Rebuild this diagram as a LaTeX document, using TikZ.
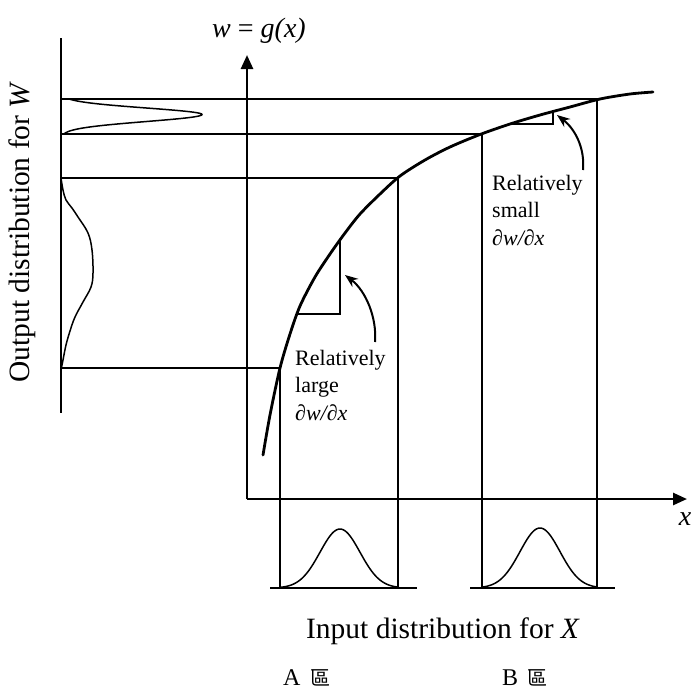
\documentclass[tikz,border=0pt]{standalone}
\usepackage{fontspec}
\setmainfont{Liberation Serif}
\newfontfamily\cjk{Noto Sans CJK TC}
\usetikzlibrary{arrows.meta}
\begin{document}
\begin{tikzpicture}[x=1pt,y=-1pt,
  thinline/.style={line width=1.5pt},
  axisline/.style={line width=2.6pt},
  curveline/.style={line width=2.8pt, line cap=round},
  axisarrow/.style={-{Triangle[length=14pt,width=12pt]}},
  callout/.style={line width=2pt, -{Stealth[length=13pt,width=10pt]}},
  biglabel/.style={font=\fontsize{29.5}{34}\selectfont, inner sep=0pt},
  note/.style={font=\fontsize{22}{27.5}\selectfont, align=left, inner sep=0pt, anchor=north west},
  zone/.style={font=\fontsize{24}{28}\selectfont, inner sep=0pt, anchor=base west},
]
\useasboundingbox (0,0) rectangle (692,689);

% axes
\coordinate (O) at (247,499);
\coordinate (ytip) at (247,55);
\coordinate (xtip) at (687,499);
\coordinate (wtop) at (61,38);
\coordinate (wbot) at (61,413);
\coordinate (base) at (0,588);

% points on w = g(x)
\coordinate (c0) at (263,455);
\coordinate (c1) at (280,368);
\coordinate (c2) at (297,314);
\coordinate (c3) at (340,240);
\coordinate (c4) at (398,178);
\coordinate (c5) at (482,134);
\coordinate (t1) at (510,124);
\coordinate (c6) at (553,111);
\coordinate (c7) at (597,99);
\coordinate (c8) at (653,92);

% output axis
\draw[axisline] (wtop) -- (wbot);

% projection lines
\draw[thinline] (c7 -| wtop) -- (c7);
\draw[thinline] (c5 -| wtop) -- (c5);
\draw[thinline] (c4 -| wtop) -- (c4);
\draw[thinline] (c1 -| wtop) -- (c1);
\draw[thinline] (c1) -- (c1 |- base);
\draw[thinline] (c4) -- (c4 |- base);
\draw[thinline] (c5) -- (c5 |- base);
\draw[thinline] (c7) -- (c7 |- base);

% slope triangles
\draw[thinline] (c2) -- (c2 -| c3) -- (c3);
\draw[thinline] (t1) -- (t1 -| c6) -- (c6);

% axes with arrows
\draw[axisline, axisarrow] (O) -- (ytip);
\draw[axisline, axisarrow] (O) -- (xtip);

% curve w = g(x)
\draw[curveline] plot[smooth, tension=0.5] coordinates {(c0) (270,415) (c1) (290,334) (300,306) (315,277) (330,254) (345,233) (360,214) (380,194) (400,176) (425,160) (450,147) (480,134.5) (t1) (540,115) (570,107) (600,99) (630,94) (c8)};

% output distributions
\draw[thinline] (61,99) -- plot[domain=99:114.5,samples=50] ({61+141*exp(-(\x-114.5)*(\x-114.5)/84.5)},\x)
  -- plot[domain=114.5:134,samples=50] ({61+141*exp(-(\x-114.5)*(\x-114.5)/98)},\x) -- (61,134);
\draw[thinline] plot[smooth, tension=0.6] coordinates {(61,178) (63,190) (66,200) (72,208) (78,217) (88,233) (92,250) (93,273) (91,287) (83,302) (75,317) (70,331) (66,345) (63,360) (61,370)};

% input distributions
\draw[thinline] (270,588) -- (417,588);
\draw[thinline] (470,588) -- (615,588);
\draw[thinline] plot[domain=281:399,samples=80] (\x,{588-59*exp(-(\x-340)*(\x-340)/800)});
\draw[thinline] plot[domain=483:597,samples=80] (\x,{588-60*exp(-(\x-540)*(\x-540)/800)});

% labels
\node[biglabel, rotate=90] (wlabel) at (22,232) {Output distribution for \textit{W}};
\node[biglabel, anchor=base] (xlabel) at (443,638) {Input distribution for \textit{X}};
\node[font=\fontsize{28}{32}\selectfont, inner sep=0pt, anchor=base] (glabel) at (259,37) {\textit{w} = \textit{g(x)}};
\node[font=\fontsize{28}{32}\selectfont, inner sep=0pt, anchor=base] (xname) at (685,525) {\textit{x}};
\node[note] (large) at (295,350) {Relatively\\large\\\textit{∂w/∂x}};
\node[note] (small) at (492,175) {Relatively\\small\\\textit{∂w/∂x}};
\node[zone] (zoneA) at (283,685) {A\hspace{0.4em}{\cjk\fontsize{20}{20}\selectfont 區}};
\node[zone] (zoneB) at (502,685) {B\hspace{0.4em}{\cjk\fontsize{20}{20}\selectfont 區}};

% callout arrows
\coordinate (a1s) at (375,342);
\coordinate (a1e) at (345,275);
\coordinate (a2s) at (583,170);
\coordinate (a2e) at (557,115);
\draw[callout] (a1s) .. controls (377,318) and (366,291) .. (a1e);
\draw[callout] (a2s) .. controls (585,148) and (575,129) .. (a2e);
\end{tikzpicture}
\end{document}
